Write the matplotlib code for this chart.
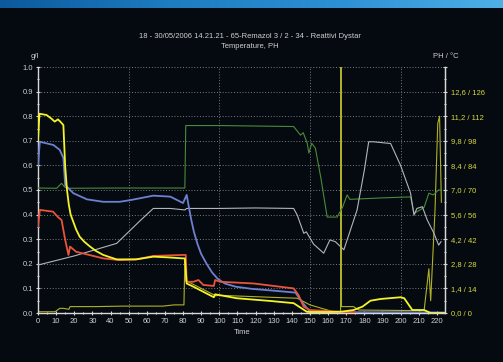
import matplotlib.pyplot as plt
import numpy as np
from matplotlib.ticker import MultipleLocator, FixedLocator

plt.rcParams['font.family'] = ['Liberation Sans Narrow', 'Liberation Sans', 'DejaVu Sans']

# --- data (left axis g/l) ---
yellow_x = [0, 0.8, 4.7, 7.4, 9.2, 11, 12.3, 14, 15, 16, 17, 18, 19.5, 21, 23, 25.5, 28.7, 32, 36, 40, 43.4,
            54, 63.6, 72, 80, 81,
            82, 85.7, 91, 97, 97.7, 109.6, 128, 141, 148.3, 150, 160, 167, 174, 179, 183.4, 189, 200, 202,
            206.5, 213, 216.6, 224]
yellow_y = [0.70, 0.81, 0.805, 0.79, 0.778, 0.787, 0.778, 0.764, 0.595, 0.50, 0.44, 0.40, 0.37, 0.34, 0.31,
            0.29, 0.27, 0.252, 0.236, 0.226, 0.218,
            0.218, 0.229, 0.226, 0.222, 0.222, 0.12, 0.107, 0.087, 0.064, 0.076, 0.06, 0.049, 0.04, 0.005, 0.004,
            0.004, 0.005, 0.012, 0.026, 0.05, 0.057, 0.064, 0.06, 0.012, 0.012, 0.0, 0.0]

blue_x = [0, 1, 8.5, 12, 14, 15, 19.5, 27, 36, 45, 51, 63.6, 73, 80, 82, 83, 84.5, 86, 88, 90, 93, 96, 99,
          103, 109, 118, 128, 142, 145.5, 150, 170, 200, 224]
blue_y = [0.60, 0.696, 0.683, 0.663, 0.63, 0.52, 0.487, 0.462, 0.452, 0.452, 0.459, 0.477, 0.473, 0.447,
          0.48, 0.44, 0.38, 0.33, 0.28, 0.24, 0.20, 0.165, 0.14, 0.12, 0.107, 0.098, 0.092, 0.083, 0.046,
          0.005, 0.003, 0.003, 0.002]

red_x = [0, 1, 8.3, 11, 13, 15, 16.8, 17.7, 21, 36, 45, 54.5, 63.6, 80, 81.5, 82, 85.7, 88.5, 91.2, 97,
         97.7, 100.5, 119, 141, 143.7, 146.5, 150, 165, 175]
red_y = [0.35, 0.419, 0.412, 0.39, 0.378, 0.297, 0.236, 0.27, 0.249, 0.222, 0.215, 0.218, 0.232, 0.236,
         0.236, 0.127, 0.127, 0.134, 0.114, 0.11, 0.134, 0.127, 0.12, 0.10, 0.073, 0.026, 0.012, 0.006, 0.002]

gray_x = [0, 20, 43.4, 50, 57, 63.6, 73, 81, 82, 100, 120, 141, 143, 146.6, 148, 152, 157.6, 161, 164,
          168.7, 172, 176, 180, 182.4, 185, 194.5, 200, 205.5, 207.4, 209, 212, 214.7, 218.4, 221, 222.3]
gray_y = [0.195, 0.232, 0.283, 0.33, 0.38, 0.425, 0.425, 0.419, 0.425, 0.425, 0.427, 0.425, 0.398, 0.324,
          0.33, 0.28, 0.243, 0.297, 0.29, 0.257, 0.33, 0.419, 0.58, 0.696, 0.696, 0.689, 0.60, 0.487, 0.398,
          0.425, 0.432, 0.378, 0.324, 0.276, 0.29]

green_x = [0, 10.3, 13, 15, 17, 45, 81, 81.5, 100, 141, 144.8, 146.3, 148.5, 149.4, 151, 153, 156, 159.5,
           165, 168, 170.5, 172, 190, 205.5, 207.4, 211, 213, 215.6, 218, 221, 222.5]
green_y = [0.508, 0.507, 0.527, 0.51, 0.507, 0.508, 0.508, 0.762, 0.762, 0.758, 0.723, 0.733, 0.69, 0.65,
           0.69, 0.67, 0.55, 0.39, 0.39, 0.43, 0.48, 0.462, 0.468, 0.472, 0.405, 0.42, 0.43, 0.487, 0.48,
           0.50, 0.50]

olive_x = [0, 9.4, 12, 14, 17, 17.7, 32, 47, 69, 75, 80.5, 81, 81.5, 82, 90, 98, 100, 128, 143, 150, 156,
           163, 166.9, 167.0, 167.3, 167.4, 174, 177, 205, 208, 213, 215.6, 216.6, 219, 220.5, 221.5, 222.5]
olive_y = [0.005, 0.005, 0.019, 0.019, 0.015, 0.026, 0.026, 0.028, 0.028, 0.033, 0.033, 0.215, 0.13, 0.13,
           0.10, 0.07, 0.072, 0.064, 0.06, 0.033, 0.02, 0.005, 0.005, 1.2, 1.2, 0.026, 0.026, 0.012, 0.01,
           0.012, 0.012, 0.18, 0.05, 0.42, 0.77, 0.80, 0.45]

right_ticks = [0, 1.4, 2.8, 4.2, 5.6, 7.0, 8.4, 9.8, 11.2, 12.6, 14.0]
right_labels = ['0,0 / 0', '1,4 / 14', '2,8 / 28', '4,2 / 42', '5,6 / 56', '7,0 / 70', '8,4 / 84',
                '9,8 / 98', '11,2 / 112', '12,6 / 126', '']

bg = '#040a10'
txt = '#d0d0d0'

fig = plt.figure(figsize=(5.03, 3.62), dpi=100, facecolor=bg)

# blue header strip of the screenshot
band = fig.add_axes([0, 1 - 8 / 362, 1, 8 / 362])
grad = np.linspace(0, 1, 256)[None, :]
band.imshow(grad, aspect='auto', cmap=plt.matplotlib.colors.LinearSegmentedColormap.from_list(
    'b', ['#0b5a9c', '#1e7cc0', '#2c90d4', '#4eb0e6']), extent=[0, 1, 0, 1])
band.axis('off')

ax = fig.add_axes([38 / 503, 49 / 362, 407 / 503, 246 / 362], facecolor=bg)
ax.set_xlim(0, 224.5)
ax.set_ylim(0, 1.0)

lw_thick = 1.3
lw_thin = 0.8
ax.plot(olive_x, olive_y, color='#b0b028', lw=lw_thin, zorder=2)
ax.plot(green_x, green_y, color='#4a8a3a', lw=lw_thin, zorder=3)
ax.plot(gray_x, gray_y, color='#b4b4bc', lw=lw_thin, zorder=3)
ax.plot(blue_x, blue_y, color='#6f80d0', lw=lw_thick, zorder=4)
ax.plot(red_x, red_y, color='#e8553a', lw=lw_thick, zorder=5)
ax.plot(yellow_x, yellow_y, color='#f4f424', lw=lw_thick, zorder=6)

# grid
for v in np.arange(0.1, 1.01, 0.1):
    ax.axhline(v, color='#8a8a8a', lw=0.6, ls=(0, (1.2, 2.2)), zorder=1)
for v in [50, 100, 150, 200]:
    ax.axvline(v, color='#8a8a8a', lw=0.6, ls=(0, (1.2, 2.2)), zorder=1)

for s in ['top']:
    ax.spines[s].set_visible(False)
for s in ['left', 'bottom', 'right']:
    ax.spines[s].set_color('#d8d8d8')
    ax.spines[s].set_linewidth(1.0)

ax.xaxis.set_major_locator(MultipleLocator(10))
ax.xaxis.set_minor_locator(MultipleLocator(5))
ax.yaxis.set_major_locator(MultipleLocator(0.1))
ax.yaxis.set_minor_locator(MultipleLocator(0.05))
ax.yaxis.set_major_formatter(plt.FuncFormatter(lambda v, p: f'{v:.1f}'))
ax.tick_params(axis='both', which='both', colors='#d8d8d8', labelcolor=txt, labelsize=5.5,
               direction='inout', length=3, width=0.8, pad=2)
ax.tick_params(axis='both', which='minor', length=2)

ax2 = ax.twinx()
ax2.set_ylim(0, 14)
ax2.yaxis.set_major_locator(FixedLocator(right_ticks))
ax2.yaxis.set_minor_locator(MultipleLocator(0.7))
ax2.set_yticklabels(right_labels)
ax2.tick_params(axis='y', which='both', colors='#d8d8d8', labelcolor='#d8d840', labelsize=5.5,
                direction='inout', length=3, width=0.8, pad=3)
ax2.tick_params(axis='y', which='minor', length=2)
for s in ['top', 'left', 'bottom']:
    ax2.spines[s].set_visible(False)
ax2.spines['right'].set_color('#d8d8d8')

fig.text(250 / 503, 1 - 37 / 362, '18 - 30/05/2006 14.21.21 - 65-Remazol 3 / 2 - 34 - Reattivi Dystar',
         ha='center', va='center', color=txt, fontsize=5.5)
fig.text(250 / 503, 1 - 46 / 362, 'Temperature, PH', ha='center', va='center', color=txt, fontsize=5.5)
fig.text(35 / 503, 1 - 57 / 362, 'g/l', ha='center', va='center', color=txt, fontsize=5.5)
fig.text(446 / 503, 1 - 56 / 362, 'PH / °C', ha='center', va='center', color=txt, fontsize=5.5)
fig.text(242 / 503, 1 - 333 / 362, 'Time', ha='center', va='center', color=txt, fontsize=5.5)

plt.savefig('out.png', dpi=100, facecolor=bg)
